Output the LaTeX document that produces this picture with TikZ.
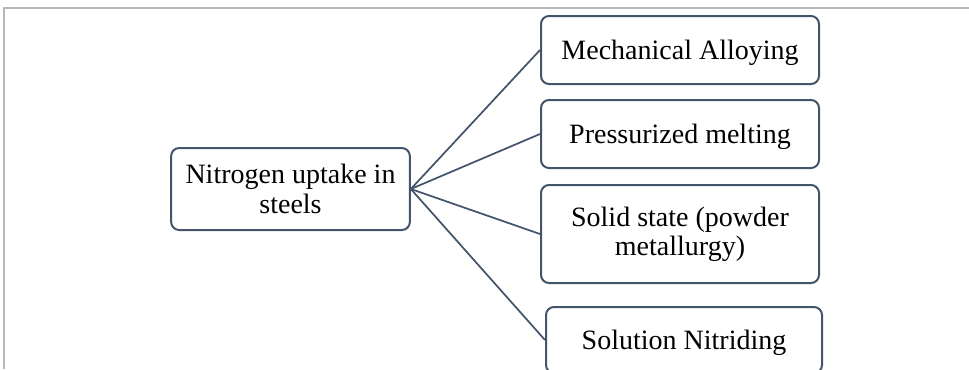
\documentclass[tikz,border=0pt]{standalone}
\usepackage{fontspec}
\setmainfont{Liberation Serif}
\definecolor{slate}{HTML}{44546A}
\begin{document}
\begin{tikzpicture}[
        x=0.75pt, y=-0.75pt,
        box/.style={draw=slate, line width=1.5pt, rounded corners=6pt, align=center,
                    font=\fontsize{21}{22}\selectfont, fill=white,
                    minimum width=208.5pt, minimum height=51pt},
        oneline/.style={box, text height=14pt, text depth=0pt},
        link/.style={draw=slate, line width=1.3pt}
    ]
    \clip (0,0) rectangle (969,369);
    \draw[black!28, line width=0.8pt] (4,369) -- (4,8) -- (969,8);

    \node[box, minimum width=179pt, minimum height=61.5pt] (root) at (290.5,189) {Nitrogen uptake in\\steels};
    \node[oneline] (mech)  at (680,50)  {Mechanical Alloying};
    \node[oneline] (melt)  at (680,134) {Pressurized melting};
    \node[box, minimum height=73.5pt] (solid) at (680,234) {Solid state (powder\\metallurgy)};
    \node[oneline, minimum width=207pt, minimum height=49.5pt] (nitr)  at (684,340) {Solution Nitriding};

    \draw[link] (root.east) -- (mech.west);
    \draw[link] (root.east) -- (melt.west);
    \draw[link] (root.east) -- (solid.west);
    \draw[link] (root.east) -- (nitr.west);
\end{tikzpicture}
\end{document}
